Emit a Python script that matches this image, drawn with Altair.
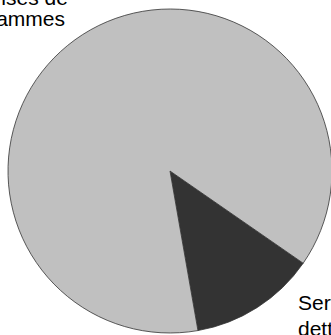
import math
import altair as alt
import pandas as pd

categories = ["Service de la dette", "Dépenses de programmes"]
labels = ["Service de la\ndette", "Dépenses de\nprogrammes"]
values = [12.6, 87.4]
colors = ["#333333", "#c0c0c0"]

df = pd.DataFrame({
    "cat": categories,
    "label": labels,
    "value": values,
    "idx": list(range(len(categories))),
})

start = math.radians(124.7)
theta_scale = alt.Scale(range=[start, start + 2 * math.pi])

base = alt.Chart(df).encode(
    theta=alt.Theta("value:Q", stack=True, scale=theta_scale),
    order=alt.Order("idx:O"),
    x=alt.value(170),
    y=alt.value(171),
)

pie = base.mark_arc(radius=162, stroke="#333333", strokeWidth=0.8).encode(
    color=alt.Color("cat:N", scale=alt.Scale(domain=categories, range=colors), legend=None)
)

txt_top = base.mark_text(
    radius=178, align="center", baseline="alphabetic", dx=-68, dy=-16,
    font="Liberation Sans", fontSize=21, lineHeight=21, lineBreak="\n", color="#000000"
).encode(text=alt.condition(alt.datum.idx == 1, alt.Text("label:N"), alt.value("")))

txt_bot = base.mark_text(
    radius=178, align="left", baseline="alphabetic", dx=32, dy=-11,
    font="Liberation Sans", fontSize=21, lineHeight=26, lineBreak="\n", color="#000000"
).encode(text=alt.condition(alt.datum.idx == 0, alt.Text("label:N"), alt.value("")))

chart = alt.layer(pie, txt_top, txt_bot).properties(
    width=331, height=335, autosize="none", padding=0
).configure_view(stroke=None)

chart.save("out.html", embed_options={"renderer": "svg", "actions": False})
